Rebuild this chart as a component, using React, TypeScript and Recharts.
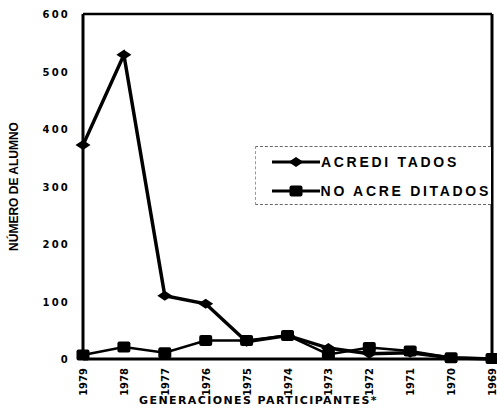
import { LineChart, Line, XAxis, YAxis, ReferenceLine } from "recharts";

const years = ["1979", "1978", "1977", "1976", "1975", "1974", "1973", "1972", "1971", "1970", "1969"];
const acreditados = [372, 529, 110, 96, 30, 41, 19, 9, 11, 2, 0];
const noAcreditados = [7, 21, 11, 32, 32, 41, 8, 20, 14, 2, 1];
const yTicks = [0, 100, 200, 300, 400, 500, 600];

const data = years.map((year, i) => ({
  year,
  acreditados: acreditados[i],
  noAcreditados: noAcreditados[i],
}));

const FONT = "'Liberation Sans', Arial, sans-serif";
const WIDE = "'DejaVu Sans', sans-serif";

function Diamond({ cx, cy }: any) {
  if (cx == null || cy == null) return null;
  return <path d={`M${cx - 7.5},${cy} L${cx},${cy - 5} L${cx + 7.5},${cy} L${cx},${cy + 5} Z`} fill="#000" />;
}

function Square({ cx, cy }: any) {
  if (cx == null || cy == null) return null;
  return <rect x={cx - 6.5} y={cy - 5.5} width={13} height={11} rx={2} fill="#000" />;
}

function YearTick({ x, y, payload }: any) {
  return (
    <text
      x={x}
      y={y}
      transform={`rotate(-90 ${x} ${y})`}
      dx={-1}
      dy={4}
      textAnchor="end"
      fontFamily={WIDE}
      fontWeight="bold"
      fontSize={10}
      fill="#000"
    >
      {payload.value}
    </text>
  );
}

function ValueTick({ y, payload }: any) {
  return (
    <text x={70} y={y} dy={4} textAnchor="end" fontFamily={WIDE} fontWeight="bold" fontSize={10} letterSpacing={2.2} fill="#000">
      {payload.value}
    </text>
  );
}

function BoxLegend() {
  const row = (label: string, square: boolean) => (
    <div style={{ display: "flex", alignItems: "center", height: 29, whiteSpace: "nowrap" }}>
      <svg width={48} height={14}>
        <line x1={0} y1={7} x2={48} y2={7} stroke="#000" strokeWidth={3} />
        {square ? <Square cx={24} cy={7} /> : <Diamond cx={24} cy={7} />}
      </svg>
      <span style={{ fontFamily: FONT, fontWeight: "bold", fontSize: 14, letterSpacing: 2.7, marginLeft: 1 }}>{label}</span>
    </div>
  );
  return (
    <div
      style={{
        position: "absolute",
        left: 255,
        top: 146,
        width: 236,
        height: 59,
        borderTop: "1px dashed #666",
        borderBottom: "1px dashed #666",
        borderLeft: "1px dashed #999",
        paddingLeft: 16,
        boxSizing: "border-box",
        background: "#fff",
      }}
    >
      {row("ACREDI TADOS", false)}
      {row("NO ACRE DITADOS", true)}
    </div>
  );
}

export default function App() {
  return (
    <div style={{ width: 497, height: 409, background: "#fff", position: "relative" }}>
      <style>{"body{margin:0}"}</style>
      <LineChart width={497} height={409} data={data} margin={{ top: 14, right: 5, left: 0, bottom: 18 }}>
        <XAxis
          dataKey="year"
          height={32}
          tick={<YearTick />}
          tickLine={false}
          axisLine={{ stroke: "#000", strokeWidth: 3 }}
          interval={0}
        />
        <YAxis
          domain={[0, 600]}
          ticks={yTicks}
          width={83}
          interval={0}
          tickLine={false}
          axisLine={{ stroke: "#000", strokeWidth: 3 }}
          tick={<ValueTick />}
          label={{
            value: "NÚMERO DE ALUMNO",
            angle: -90,
            position: "insideLeft",
            offset: 14,
            textAnchor: "middle",
            fontFamily: "'Liberation Sans Narrow', 'Liberation Sans', sans-serif",
            fontWeight: "bold",
            fontSize: 12,
            fill: "#000",
          }}
        />
        <ReferenceLine y={600} stroke="#000" strokeWidth={2.5} ifOverflow="visible" />
        <ReferenceLine x="1969" stroke="#000" strokeWidth={3} ifOverflow="visible" />
        <Line
          dataKey="noAcreditados"
          stroke="#000"
          strokeWidth={2.5}
          dot={<Square />}
          activeDot={false}
          isAnimationActive={false}
        />
        <Line
          dataKey="acreditados"
          stroke="#000"
          strokeWidth={3.5}
          dot={<Diamond />}
          activeDot={false}
          isAnimationActive={false}
        />
      </LineChart>
      <BoxLegend />
      <div
        style={{
          position: "absolute",
          left: 0,
          width: 517,
          top: 394,
          textAlign: "center",
          fontFamily: WIDE,
          fontWeight: "bold",
          fontSize: 11,
          letterSpacing: 1.4,
          lineHeight: "13px",
          whiteSpace: "nowrap",
        }}
      >
        GENERACIONES PARTICIPANTES*
      </div>
    </div>
  );
}
